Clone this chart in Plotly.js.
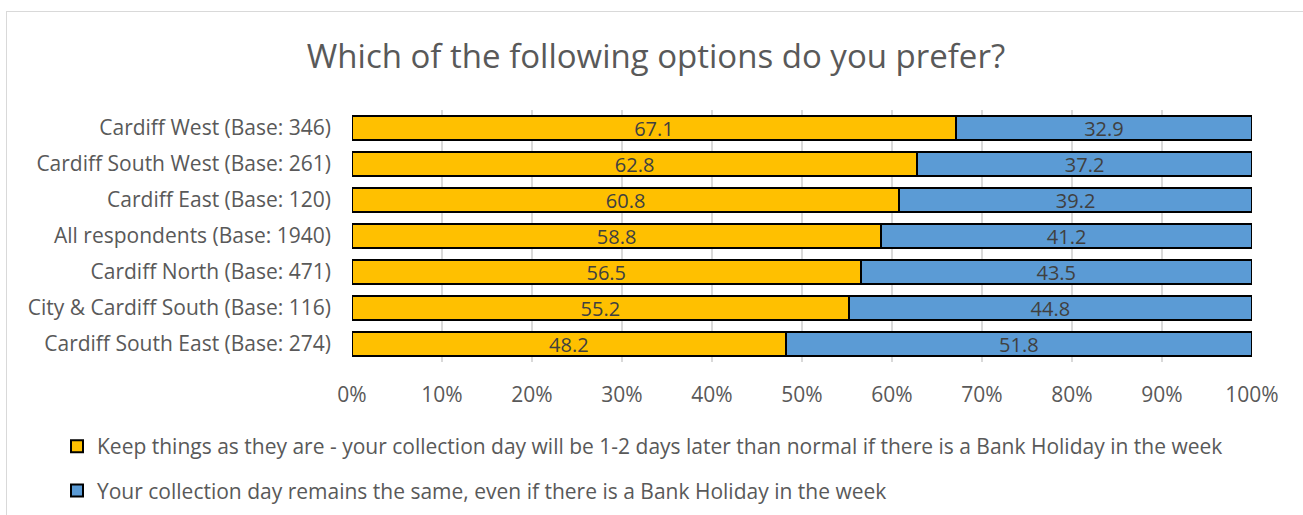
<!DOCTYPE html>
<html>
<head>
<meta charset="utf-8">
<script src="https://cdn.plot.ly/plotly-3.0.1.min.js"></script>
<style>
  html, body { margin: 0; padding: 0; background: #fff; }
  #wrap { position: relative; width: 1303px; height: 515px; }
  #chart { position: absolute; left: 0; top: 0; width: 1303px; height: 515px; }
  #frame { position: absolute; left: 6px; top: 11px; width: 1310px; height: 520px;
           border: 1px solid #d9d9d9; box-sizing: border-box; pointer-events: none; }
</style>
</head>
<body>
<div id="wrap">
  <div id="chart"></div>
  <div id="frame"></div>
</div>
<script>
const categories = [
  "Cardiff West (Base: 346)",
  "Cardiff South West (Base: 261)",
  "Cardiff East (Base: 120)",
  "All respondents (Base: 1940)",
  "Cardiff North (Base: 471)",
  "City & Cardiff South (Base: 116)",
  "Cardiff South East (Base: 274)"
];
const keepThings = [67.1, 62.8, 60.8, 58.8, 56.5, 55.2, 48.2];
const remainsSame = [32.9, 37.2, 39.2, 41.2, 43.5, 44.8, 51.8];
const seriesNames = [
  "Keep things as they are - your collection day will be 1-2 days later than normal if there is a Bank Holiday in the week",
  "Your collection day remains the same, even if there is a Bank Holiday in the week"
];
const xTicks = [0, 10, 20, 30, 40, 50, 60, 70, 80, 90, 100];

const FONT = "'Open Sans', Lato, sans-serif";
const TXT = "#595959";

function barTrace(vals, name, color, group) {
  return {
    type: "bar", orientation: "h",
    y: categories, x: vals, name: name, legendgroup: group,
    marker: { color: color, line: { color: "#000000", width: 2 } },
    text: vals.map(v => v.toFixed(1)),
    textposition: "inside", insidetextanchor: "middle", constraintext: "none",
    textfont: { family: FONT, size: 20, color: "#404040" },
    hoverinfo: "x+y"
  };
}

const data = [
  barTrace(keepThings, seriesNames[0], "#FFC000", "a"),
  barTrace(remainsSame, seriesNames[1], "#5B9BD5", "b")
];

const layout = {
  width: 1303, height: 515,
  margin: { l: 352, r: 51, t: 110, b: 153, autoexpand: false },
  paper_bgcolor: "rgba(0,0,0,0)", plot_bgcolor: "rgba(0,0,0,0)",
  barmode: "stack", bargap: 0.33,
  font: { family: FONT, color: TXT, size: 21 },
  title: {
    text: "Which of the following options do you prefer?",
    font: { family: FONT, size: 33, color: TXT },
    x: 656 / 1303, xanchor: "center", xref: "container",
    y: 1 - 56 / 515, yanchor: "middle", yref: "container"
  },
  xaxis: {
    range: [0, 100], tickvals: xTicks, ticktext: xTicks.map(v => v + "%"),
    tickangle: 0,
    showgrid: true, gridcolor: "#d9d9d9", gridwidth: 2,
    zeroline: false, showline: false, ticks: "",
    ticklabelstandoff: 18, automargin: false,
    tickfont: { family: FONT, size: 21, color: TXT },
    fixedrange: true
  },
  yaxis: {
    type: "category", autorange: "reversed",
    showgrid: false, zeroline: false, showline: false, ticks: "",
    ticklabelstandoff: 20, automargin: false,
    tickfont: { family: FONT, size: 21, color: TXT },
    fixedrange: true
  },
  showlegend: true,
  legend: {
    orientation: "v", traceorder: "grouped", tracegroupgap: 14,
    xref: "container", yref: "container",
    x: 57 / 1303, xanchor: "left",
    y: 1 - 426 / 515, yanchor: "top",
    font: { family: FONT, size: 21, color: TXT },
    itemwidth: 30, bgcolor: "rgba(0,0,0,0)"
  }
};

Plotly.newPlot("chart", data, layout, { displayModeBar: false, staticPlot: true });
</script>
</body>
</html>
